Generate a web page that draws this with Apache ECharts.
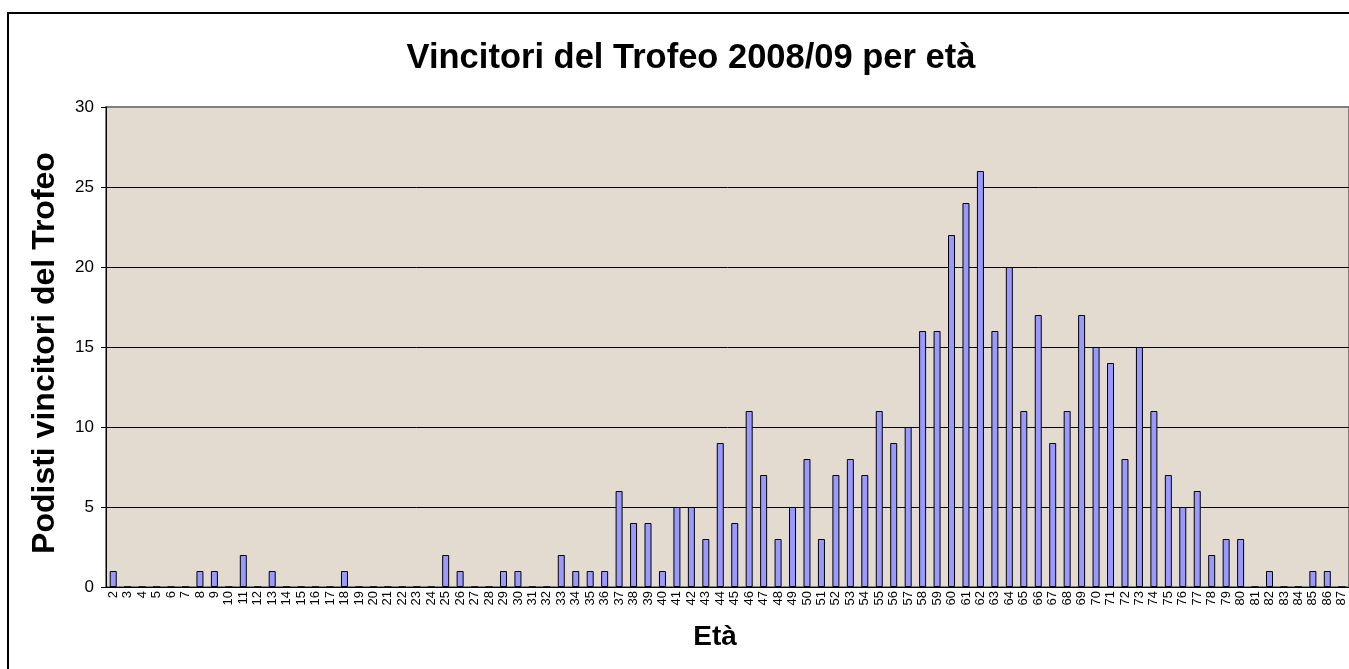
<!DOCTYPE html>
<html>
<head>
<meta charset="utf-8">
<script src="https://cdn.jsdelivr.net/npm/echarts@6/dist/echarts.min.js"></script>
<style>
  html, body { margin: 0; padding: 0; background: #fff; }
  #myChart { width: 1349px; height: 669px; }
</style>
</head>
<body>
<div id="myChart"></div>
<script>
// età 2..87
const ages = [];
for (let a = 2; a <= 87; a++) ages.push(String(a));

// podisti vincitori per età
const podisti = [
  1, 0, 0, 0, 0, 0, 1, 1, 0, 2,   // 2-11
  0, 1, 0, 0, 0, 0, 1, 0, 0, 0,   // 12-21
  0, 0, 0, 2, 1, 0, 0, 1, 1, 0,   // 22-31
  0, 2, 1, 1, 1, 6, 4, 4, 1, 5,   // 32-41
  5, 3, 9, 4, 11, 7, 3, 5, 8, 3,  // 42-51
  7, 8, 7, 11, 9, 10, 16, 16, 22, 24, // 52-61
  26, 16, 20, 11, 17, 9, 11, 17, 15, 14, // 62-71
  8, 15, 11, 7, 5, 6, 2, 3, 3, 0, // 72-81
  1, 0, 0, 1, 1, 0               // 82-87
];

const yTicks = [0, 5, 10, 15, 20, 25, 30];

const myChart = echarts.init(document.getElementById('myChart'));
myChart.setOption({
  animation: false,
  textStyle: { fontFamily: 'Liberation Sans, Arial, sans-serif' },
  title: {
    text: 'Vincitori del Trofeo 2008/09 per età',
    left: 686,
    top: 36,
    textAlign: 'center',
    textStyle: { fontSize: 34.5, fontWeight: 'bold', color: '#000' },
  },
  graphic: [
    {
      type: 'rect',
      shape: { x: 8, y: 13, width: 1400, height: 700 },
      style: { fill: 'none', stroke: '#000', lineWidth: 2 },
      silent: true,
    },
  ],
  grid: {
    left: 106,
    right: -1,
    top: 107,
    bottom: 82,
    show: true,
    backgroundColor: '#e3dbcf',
    borderColor: '#808080',
    borderWidth: 2,
  },
  xAxis: {
    type: 'category',
    data: ages,
    name: 'Età',
    nameLocation: 'middle',
    nameGap: 36,
    nameTextStyle: { fontSize: 28, fontWeight: 'bold', color: '#000', padding: [0, 25, 0, 0] },
    axisLine: { lineStyle: { color: '#000', width: 1 } },
    axisTick: { alignWithLabel: false, length: 5, lineStyle: { color: '#000' } },
    axisLabel: { interval: 0, rotate: 90, fontSize: 13, color: '#000', margin: 4 },
  },
  yAxis: {
    type: 'value',
    min: yTicks[0],
    max: yTicks[yTicks.length - 1],
    interval: 5,
    name: 'Podisti vincitori del Trofeo',
    nameLocation: 'middle',
    nameGap: 45,
    nameTextStyle: { fontSize: 32, fontWeight: 'bold', color: '#000', padding: [0, 12, 0, 0] },
    axisLine: { show: true, lineStyle: { color: '#000', width: 1 } },
    axisTick: { show: true, length: 5, lineStyle: { color: '#000' } },
    axisLabel: { fontSize: 17, color: '#000', margin: 12 },
    splitLine: { show: true, showMaxLine: false, lineStyle: { color: '#000', width: 1 } },
  },
  series: [
    {
      type: 'bar',
      data: podisti,
      barWidth: 7,
      itemStyle: { color: '#9999ff', borderColor: '#000', borderWidth: 1 },
    },
  ],
});
</script>
</body>
</html>
